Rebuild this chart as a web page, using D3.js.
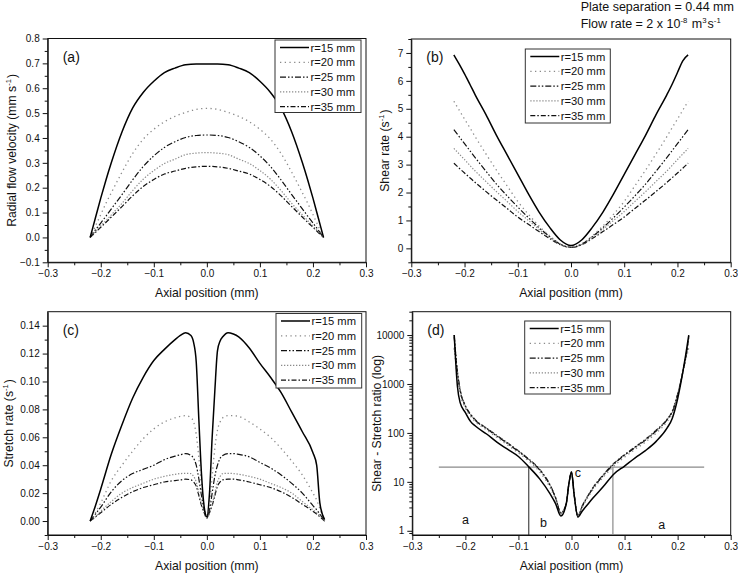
<!DOCTYPE html>
<html><head><meta charset="utf-8">
<script src="https://cdn.jsdelivr.net/npm/d3@7"></script>
<style>
body{margin:0;background:#fff;}
svg text{font-family:"Liberation Sans",Arial,sans-serif;fill:#111;}
</style></head>
<body><svg id="c" width="738" height="573"></svg>
<script>
// ---------- data ----------
const seriesNames = ["r=15 mm","r=20 mm","r=25 mm","r=30 mm","r=35 mm"];
const xTicks = [-0.3,-0.2,-0.1,0.0,0.1,0.2,0.3];

// (a) radial flow velocity
const xsA = [-0.22,-0.21,-0.2,-0.19,-0.18,-0.16,-0.14,-0.12,-0.1,-0.08,-0.06,-0.04,-0.02,0,0.02,0.04,0.06,0.08,0.1,0.12,0.14,0.16,0.18,0.19,0.2,0.21,0.22];
const velR15 = [0,0.079,0.158,0.232,0.301,0.424,0.52,0.583,0.628,0.663,0.681,0.694,0.697,0.697,0.697,0.694,0.681,0.663,0.628,0.583,0.52,0.424,0.301,0.232,0.158,0.079,0];
const velR20 = [0,0.046,0.092,0.138,0.18,0.262,0.337,0.395,0.435,0.465,0.487,0.503,0.515,0.519,0.515,0.503,0.487,0.465,0.435,0.395,0.337,0.262,0.18,0.138,0.092,0.046,0];
const velR25 = [0,0.03,0.058,0.086,0.115,0.172,0.231,0.285,0.328,0.362,0.385,0.402,0.41,0.412,0.41,0.402,0.385,0.362,0.328,0.285,0.231,0.172,0.115,0.086,0.058,0.03,0];
const velR30 = [0,0.023,0.046,0.068,0.091,0.137,0.188,0.234,0.269,0.297,0.315,0.333,0.339,0.341,0.339,0.333,0.315,0.297,0.269,0.234,0.188,0.137,0.091,0.068,0.046,0.023,0];
const velR35 = [0,0.02,0.041,0.061,0.082,0.124,0.167,0.205,0.233,0.255,0.267,0.278,0.284,0.286,0.284,0.278,0.267,0.255,0.233,0.205,0.167,0.124,0.082,0.061,0.041,0.02,0];

// (b) shear rate
const xsB = xsA;
const shearR15 = [6.93,6.6,6.25,5.88,5.5,4.8,4.05,3.35,2.65,1.95,1.3,0.75,0.3,0.1,0.3,0.75,1.3,1.95,2.65,3.35,4.05,4.8,5.5,5.88,6.3,6.72,6.93];
const shearR20 = [5.27,4.95,4.63,4.32,4.0,3.39,2.8,2.24,1.68,1.22,0.8,0.45,0.16,0.05,0.16,0.45,0.8,1.22,1.68,2.24,2.8,3.39,4.0,4.32,4.63,4.95,5.27];
const shearR25 = [4.25,4.0,3.75,3.5,3.25,2.77,2.3,1.88,1.48,1.1,0.74,0.42,0.15,0.04,0.15,0.42,0.74,1.1,1.48,1.88,2.3,2.77,3.25,3.5,3.75,4.0,4.25];
const shearR30 = [3.58,3.38,3.18,2.97,2.77,2.4,2.03,1.68,1.32,1.0,0.68,0.38,0.14,0.04,0.14,0.38,0.68,1.0,1.32,1.68,2.03,2.4,2.77,2.97,3.18,3.38,3.58];
const shearR35 = [3.05,2.87,2.7,2.53,2.36,2.04,1.73,1.43,1.12,0.86,0.6,0.35,0.13,0.03,0.13,0.35,0.6,0.86,1.12,1.43,1.73,2.04,2.36,2.53,2.7,2.87,3.05];

// (c) stretch rate
const xsC = [-0.22,-0.21,-0.2,-0.18,-0.16,-0.14,-0.12,-0.1,-0.08,-0.06,-0.05,-0.04,-0.03,-0.025,-0.02,-0.015,-0.01,-0.005,0,
             0.005,0.01,0.015,0.02,0.025,0.03,0.04,0.05,0.06,0.08,0.1,0.12,0.14,0.16,0.18,0.2,0.207,0.213,0.222];
const strR15 = [0,0.011,0.023,0.048,0.069,0.088,0.103,0.115,0.123,0.13,0.133,0.135,0.133,0.128,0.114,0.072,0.033,0.01,0.003,
                0.02,0.06,0.093,0.122,0.129,0.132,0.135,0.134,0.132,0.124,0.113,0.103,0.092,0.078,0.064,0.049,0.04,0.013,0.001];
const strR20 = [0,0.006,0.013,0.029,0.04,0.05,0.059,0.066,0.071,0.074,0.075,0.0755,0.074,0.071,0.062,0.045,0.025,0.01,0.004,
                0.012,0.032,0.052,0.065,0.071,0.074,0.0755,0.0755,0.075,0.071,0.066,0.06,0.052,0.043,0.033,0.02,0.015,0.009,0];
const strR25 = [0,0.005,0.01,0.021,0.029,0.034,0.037,0.04,0.044,0.0465,0.0475,0.0483,0.047,0.045,0.04,0.03,0.018,0.008,0.003,
                0.008,0.02,0.032,0.04,0.045,0.047,0.0483,0.0483,0.0478,0.046,0.042,0.038,0.033,0.027,0.02,0.011,0.008,0.005,0];
const strR30 = [0,0.003,0.007,0.014,0.02,0.024,0.027,0.03,0.032,0.0335,0.034,0.0342,0.034,0.032,0.028,0.02,0.012,0.006,0.002,
                0.006,0.012,0.02,0.028,0.032,0.034,0.0342,0.034,0.0335,0.032,0.03,0.027,0.024,0.02,0.014,0.008,0.006,0.004,0];
const strR35 = [0,0.003,0.006,0.012,0.017,0.021,0.024,0.026,0.028,0.029,0.0295,0.03,0.0295,0.028,0.025,0.018,0.011,0.006,0.002,
                0.006,0.011,0.018,0.025,0.028,0.0295,0.03,0.03,0.0295,0.028,0.026,0.024,0.021,0.017,0.012,0.007,0.005,0.003,0];

// (d) shear / stretch ratio (log)
const xsD = [-0.221,-0.215,-0.21,-0.2,-0.19,-0.18,-0.16,-0.14,-0.12,-0.1,-0.08,-0.06,-0.04,-0.03,-0.02,-0.01,-0.005,0,0.005,0.012,0.02,0.03,0.04,0.06,0.08,0.1,0.12,0.14,0.16,0.18,0.19,0.2,0.21,0.215,0.221];
const ratR15 = [10000,900,420,260,170,135,95,64,46,33,20,11.5,5.6,3.6,2.0,3.5,9,16,5.5,1.9,2.5,3.4,4.6,8.0,14.5,21,31,44,68,125,200,500,1800,3800,10000];
const ratR20 = [5300,1400,650,320,215,165,115,80,56,39,26,16,7.5,4.3,2.2,3.5,9,15.5,5.5,2.0,3.0,4.6,6.8,12.5,21,32,46,66,100,170,250,560,1700,3000,5300];
const ratR25 = [10000,1700,750,350,232,175,122,85,60,42,28,17.5,8.2,4.7,2.3,3.6,9,15.5,5.5,2.0,3.1,4.9,7.3,13.5,23,35,50,72,110,185,270,600,1800,3300,9500];
const ratR30 = [5500,1750,760,355,236,178,124,87,61,42.5,28.5,17.8,8.4,4.75,2.3,3.6,9,15.5,5.5,2.0,3.15,4.95,7.4,13.8,23.5,35.5,51,74,112,188,275,610,1800,3300,5500];
const ratR35 = [9000,1800,780,360,240,180,125,88,62,43,29,18,8.5,4.8,2.3,3.6,9,15.5,5.5,2.0,3.2,5.0,7.5,14,24,36,52,75,115,190,280,620,1800,3300,9000];
const logMinorTicks = [0.9,2,3,4,5,6,7,8,9,20,30,40,50,60,70,80,90,200,300,400,500,600,700,800,900,
                       2000,3000,4000,5000,6000,7000,8000,9000,20000,30000];
const thresholdY = 20;            // horizontal guide
const thresholdX = [-0.25,0.25];
const regionBounds = [-0.0805,0.078];
const regionLabels = ["a","b","a","c"];
const regionLabelX = [-0.2,-0.053,0.17,0.012];
const regionLabelY = [1.37,1.19,1.08,12.5];

// ---------- drawing ----------
const svg = d3.select("#c");
const styles = [
  {c:"#000", d:null, w:1.5},
  {c:"#8a8a8a", d:"1.3,3.4", w:1.3},
  {c:"#111", d:"6,2,1.5,2,1.5,2", w:1.2},
  {c:"#8a8a8a", d:"1.3,1.7", w:1.2},
  {c:"#111", d:"5,2,1.5,2", w:1.2}
];

function textWithSup(sel, parts, size){
  parts.forEach(p=>{
    if(typeof p === "string") sel.append("tspan").text(p);
    else {
      sel.append("tspan").attr("dy", -size*0.4).attr("font-size", size*0.62).text(p.sup);
      sel.append("tspan").attr("dy", size*0.4).text("\u200A");
    }
  });
}

function panel(o){
  const g = svg.append("g");
  const x = d3.scaleLinear().domain([-0.3,0.3]).range([o.L,o.R]);
  const y = (o.log ? d3.scaleLog() : d3.scaleLinear()).domain(o.yDom).range([o.B,o.T]);

  // x axis
  g.append("g").attr("transform",`translate(0,${o.B})`)
    .call(d3.axisBottom(x).tickValues(xTicks).tickFormat(d3.format(".1f")).tickSize(5).tickSizeOuter(0));
  g.append("g").attr("transform",`translate(0,${o.B})`)
    .call(d3.axisBottom(x).tickValues(d3.range(-0.25,0.3,0.1)).tickFormat("").tickSize(3).tickSizeOuter(0))
    .select(".domain").remove();
  // y axis
  const yAxis = d3.axisLeft(y).tickValues(o.yTicks).tickFormat(o.yFmt).tickSize(5).tickSizeOuter(0);
  g.append("g").attr("transform",`translate(${o.L},0)`).call(yAxis);
  if(o.yMinor){
    g.append("g").attr("transform",`translate(${o.L},0)`)
      .call(d3.axisLeft(y).tickValues(o.yMinor).tickFormat("").tickSize(3).tickSizeOuter(0))
      .select(".domain").remove();
  }
  g.selectAll(".tick text").attr("font-size",10).attr("font-family","Liberation Sans, Arial, sans-serif").attr("fill","#111");
  g.selectAll(".tick line").attr("stroke","#111");
  g.selectAll(".domain").attr("stroke","#111");
  // frame
  g.append("rect").attr("x",o.L).attr("y",o.T).attr("width",o.R-o.L).attr("height",o.B-o.T)
    .attr("fill","none").attr("stroke","#111").attr("stroke-width",1);

  if(o.guides) o.guides(g,x,y);

  // series
  const line = d3.line().x(d=>x(d[0])).y(d=>y(d[1])).curve(d3.curveMonotoneX);
  for(let i=o.series.length-1;i>=0;i--){
    const pts = o.xs.map((v,k)=>[v,o.series[i][k]]);
    g.append("path").attr("d",line(pts)).attr("fill","none")
      .attr("stroke",styles[i].c).attr("stroke-width",styles[i].w)
      .attr("stroke-dasharray",styles[i].d);
  }

  // legend
  const lg = g.append("g");
  lg.append("rect").attr("x",o.lg[0]).attr("y",o.lg[1]).attr("width",o.lg[2]).attr("height",o.lg[3])
    .attr("fill","#fff").attr("stroke","#333").attr("stroke-width",1);
  seriesNames.forEach((n,i)=>{
    const yy = o.lg[1]+7.5+i*14.8;
    lg.append("line").attr("x1",o.lg[0]+5).attr("x2",o.lg[0]+34).attr("y1",yy).attr("y2",yy)
      .attr("stroke",styles[i].c).attr("stroke-width",styles[i].w).attr("stroke-dasharray",styles[i].d);
    lg.append("text").attr("x",o.lg[0]+35.5).attr("y",yy+4).attr("font-size",11.2).text(n);
  });

  g.append("text").attr("x",o.L+15).attr("y",o.T+23).attr("font-size",14).text(o.letter);

  g.append("text").attr("x",(o.L+o.R)/2).attr("y",o.B+35).attr("text-anchor","middle").attr("font-size",12.2).text("Axial position (mm)");
  const yt = g.append("text").attr("transform",`translate(${o.ytX},${(o.T+o.B)/2}) rotate(-90)`)
    .attr("text-anchor","middle").attr("font-size",12.2);
  textWithSup(yt,o.yTitle,12.2);
}

panel({L:47.7,R:366,T:38.5,B:262.3,yDom:[-0.1,0.8],yTicks:d3.range(-0.1,0.81,0.1),yMinor:d3.range(-0.05,0.8,0.1),
  yFmt:d3.format(".1f"),xs:xsA,series:[velR15,velR20,velR25,velR30,velR35],lg:[275,40,86,72.5],letter:"(a)",
  ytX:16,yTitle:["Radial flow velocity (mm s",{sup:"-1"},")"]});

panel({L:411.3,R:730.7,T:39,B:262.3,yDom:[-0.5,7.5],yTicks:d3.range(0,8,1),yMinor:d3.range(-0.5,7.6,1),
  yFmt:d3.format("d"),xs:xsB,series:[shearR15,shearR20,shearR25,shearR30,shearR35],lg:[525.3,49,85,74],letter:"(b)",
  ytX:389,yTitle:["Shear rate (s",{sup:"-1"},")"]});

panel({L:47.7,R:366,T:311.7,B:535,yDom:[-0.01,0.15],yTicks:d3.range(0,0.141,0.02),yMinor:d3.range(-0.01,0.15,0.02),
  yFmt:d3.format(".2f"),xs:xsC,series:[strR15,strR20,strR25,strR30,strR35],lg:[276,313.5,85.7,74.5],letter:"(c)",
  ytX:13,yTitle:["Stretch rate (s",{sup:"-1"},")"]});

panel({L:412.3,R:730.7,T:311.7,B:535,log:true,yDom:[0.82,30000],yTicks:[1,10,100,1000,10000],yMinor:logMinorTicks,
  yFmt:d3.format("d"),xs:xsD,series:[ratR15,ratR20,ratR25,ratR30,ratR35],lg:[524.7,321,85.6,73],letter:"(d)",
  ytX:381,yTitle:["Shear - Stretch ratio (log)"],
  guides:(g,x,y)=>{
    g.append("line").attr("x1",x(thresholdX[0])).attr("x2",x(thresholdX[1])).attr("y1",y(thresholdY)).attr("y2",y(thresholdY))
      .attr("stroke","#8a8a8a").attr("stroke-width",1.4);
    g.append("line").attr("x1",x(regionBounds[0])).attr("x2",x(regionBounds[0])).attr("y1",y(thresholdY)).attr("y2",y(0.82))
      .attr("stroke","#222").attr("stroke-width",1);
    g.append("line").attr("x1",x(regionBounds[1])).attr("x2",x(regionBounds[1])).attr("y1",y(thresholdY)).attr("y2",y(0.82))
      .attr("stroke","#8a8a8a").attr("stroke-width",1.2);
    regionLabels.forEach((t,i)=>{
      g.append("text").attr("x",x(regionLabelX[i])).attr("y",y(regionLabelY[i])).attr("text-anchor","middle")
        .attr("font-size",12.5).text(t);
    });
  }});

svg.append("text").attr("x",580.7).attr("y",11).attr("font-size",12.5).text("Plate separation = 0.44 mm");
const ht = svg.append("text").attr("x",580.7).attr("y",28).attr("font-size",12.5);
textWithSup(ht,["Flow rate = 2 x 10",{sup:"-8"}," m",{sup:"3"},"s",{sup:"-1"}],12.5);
</script></body></html>
